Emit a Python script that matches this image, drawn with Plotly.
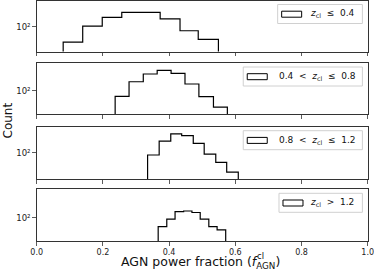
import plotly.graph_objects as go

# ---- data ----
edges_1 = [0.080, 0.139, 0.198, 0.257, 0.315, 0.373, 0.433, 0.488, 0.549]
counts_1 = [49, 103, 154, 194, 194, 143, 83, 56]

edges_2 = [0.237, 0.279, 0.322, 0.364, 0.406, 0.448, 0.490, 0.534, 0.576]
counts_2 = [77, 151, 216, 256, 223, 136, 76, 47]

edges_3 = [0.335, 0.370, 0.405, 0.438, 0.473, 0.506, 0.541, 0.574, 0.609]
counts_3 = [90, 171, 237, 219, 154, 94, 64, 41]

edges_4 = [0.367, 0.393, 0.418, 0.444, 0.469, 0.494, 0.520, 0.545, 0.571]
counts_4 = [66, 94, 132, 136, 127, 94, 66, 57]

labels = [
    "<i>z</i><sub>cl</sub>\u00a0\u00a0≤\u00a0\u00a00.4",
    "0.4\u00a0\u00a0<\u00a0\u00a0<i>z</i><sub>cl</sub>\u00a0\u00a0≤\u00a0\u00a00.8",
    "0.8\u00a0\u00a0<\u00a0\u00a0<i>z</i><sub>cl</sub>\u00a0\u00a0≤\u00a0\u00a01.2",
    "<i>z</i><sub>cl</sub>\u00a0\u00a0>\u00a0\u00a01.2",
]

x_ticks = [0.0, 0.2, 0.4, 0.6, 0.8, 1.0]
x_ticklabels = ["0.0", "0.2", "0.4", "0.6", "0.8", "1.0"]
y_tickvals = [100]
y_ticktext = ["10²"]

# ---- layout geometry ----
W, H = 374, 274
def py(p):
    return 1 - p / H

x_dom = [36.7 / W, 367.7 / W]
panels_px = [(0.5, 51.5), (63.0, 114.3), (126.7, 179.0), (189.3, 241.0)]
y_ranges = [[1.504, 2.524], [1.528, 2.554], [1.474, 2.520], [1.534, 2.568]]
legend_left = [0.728, 0.624, 0.624, 0.732]
text_left = [0.820, 0.725, 0.725, 0.820]

series = [(edges_1, counts_1), (edges_2, counts_2), (edges_3, counts_3), (edges_4, counts_4)]

FONT = "DejaVu Sans"
AX = "#333333"

fig = go.Figure()
layout = dict(
    width=W, height=H,
    margin=dict(l=0, r=0, t=0, b=0),
    paper_bgcolor="white", plot_bgcolor="white",
    showlegend=False,
    font=dict(family=FONT, color="#222222"),
)
shapes = []
annotations = []

for i, (edges, counts) in enumerate(series):
    n = i + 1
    xa = "x" if n == 1 else f"x{n}"
    ya = "y" if n == 1 else f"y{n}"
    floor = 1.0
    xs = [edges[0], edges[0]] + list(edges[1:]) + [edges[-1]]
    ys = [floor] + list(counts) + [counts[-1], floor]
    fig.add_trace(go.Scatter(x=xs, y=ys, mode="lines", line_shape="hv",
                             line=dict(color="black", width=1.2),
                             xaxis=xa, yaxis=ya, hoverinfo="skip"))
    top, bot = panels_px[i]
    layout[f"xaxis{'' if n == 1 else n}"] = dict(
        domain=x_dom, range=[0, 1], anchor=ya,
        showline=True, mirror=True, linecolor=AX, linewidth=1,
        showgrid=False, zeroline=False, automargin=False,
        ticklabeloverflow="allow",
        ticks="outside", ticklen=3.5, tickwidth=0.8, tickcolor=AX,
        tickvals=x_ticks, ticktext=x_ticklabels,
        showticklabels=(n == 4), tickfont=dict(size=8, family=FONT, color="#222"),
    )
    layout[f"yaxis{'' if n == 1 else n}"] = dict(
        domain=[py(bot), py(top)], type="log", range=y_ranges[i], anchor=xa,
        showline=True, mirror=True, linecolor=AX, linewidth=1,
        showgrid=False, zeroline=False, automargin=False,
        ticklabeloverflow="allow",
        ticks="outside", ticklen=3.5, tickwidth=0.8, tickcolor=AX,
        tickvals=y_tickvals, ticktext=y_ticktext,
        tickfont=dict(size=8.5, family=FONT, color="#222"),
    )
    ydom = f"{ya} domain"
    ph = bot - top
    # legend box
    shapes.append(dict(type="rect", xref=xa, yref=ydom,
                       x0=legend_left[i], x1=0.984,
                       y0=1 - 23 / ph, y1=1 - 4 / ph,
                       line=dict(color="#d0d0d0", width=1),
                       fillcolor="rgba(255,255,255,0.8)", layer="above"))
    # legend patch icon
    ix0 = legend_left[i] + 4 / 331
    shapes.append(dict(type="rect", xref=xa, yref=ydom,
                       x0=ix0, x1=ix0 + 20 / 331,
                       y0=1 - 16.7 / ph, y1=1 - 10.7 / ph,
                       line=dict(color="black", width=1),
                       fillcolor="rgba(0,0,0,0)", layer="above"))
    annotations.append(dict(xref=xa, yref=ydom, x=text_left[i], y=1 - 13.5 / ph,
                            xanchor="left", yanchor="middle", showarrow=False,
                            text=labels[i], font=dict(size=9, family=FONT, color="#111")))

# x-axis title: main text with subscript, superscript placed separately above subscript
annotations.append(dict(xref="paper", yref="paper", x=119 / W, y=py(262),
                        xanchor="left", yanchor="middle", showarrow=False,
                        text="AGN power fraction (<i>f</i><sub>AGN</sub>)",
                        font=dict(size=12.5, family=FONT, color="#111")))
annotations.append(dict(xref="paper", yref="paper", x=255 / W, y=py(256),
                        xanchor="left", yanchor="middle", showarrow=False,
                        text="cl", font=dict(size=8.5, family=FONT, color="#111")))
annotations.append(dict(xref="paper", yref="paper", x=7 / W, y=py(120.5),
                        xanchor="center", yanchor="middle", showarrow=False,
                        textangle=-90, text="Count",
                        font=dict(size=12, family=FONT, color="#111")))

layout["shapes"] = shapes
layout["annotations"] = annotations
fig.update_layout(**layout)
fig.write_html("out.html", config={"displayModeBar": False, "staticPlot": True},
               post_script="document.body.style.margin='0';document.body.style.padding='0';")
